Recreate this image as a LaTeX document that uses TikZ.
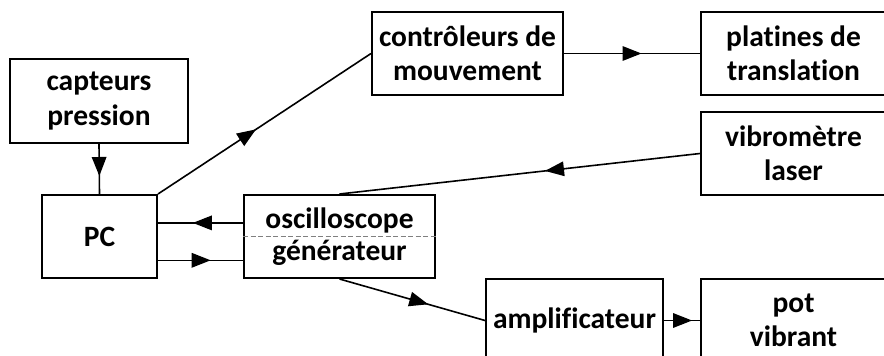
\documentclass[tikz,border=0pt]{standalone}
\usepackage{fontspec}
\setmainfont{Carlito}[Ligatures=NoCommon]
\usetikzlibrary{arrows.meta,decorations.markings,calc}
\tikzset{
  box/.style={draw=black, line width=2pt, rectangle, inner sep=0pt, align=center,
    font=\fontsize{29.5}{34.5}\selectfont\bfseries},
  conn/.style={line width=1.6pt},
  marr/.style={postaction={decorate}, decoration={markings,
    mark=at position #1 with {\arrow{Triangle[length=19pt,width=14.5pt]}}}},
  sep/.style={draw=gray, line width=0.9pt, dash pattern=on 5pt off 2.5pt}
}
\begin{document}
\begin{tikzpicture}[x=1pt,y=-1pt]
\useasboundingbox (0,0) rectangle (884,356);
\clip (0,0) rectangle (884,356);
\node[box, minimum width=178pt, minimum height=84pt] (capt) at (99,101) {capteurs\\pression};
\node[box, minimum width=115pt, minimum height=83pt] (pc) at (99.5,236.5) {PC};
\node[box, minimum width=191pt, minimum height=83pt] (osc) at (339.5,236.5) {oscilloscope\\[-2pt]générateur};
\node[box, minimum width=191pt, minimum height=83pt] (ctrl) at (467.5,53.5) {contrôleurs de\\mouvement};
\node[box, minimum width=185pt, minimum height=83pt] (plat) at (793.5,53.5) {platines de\\translation};
\node[box, minimum width=185pt, minimum height=83pt] (vib) at (793.5,153.5) {vibromètre\\laser};
\node[box, minimum width=177pt, minimum height=83pt] (amp) at (574.5,320.5) {amplificateur};
\node[box, minimum width=185pt, minimum height=83pt] (pot) at (793.5,320.5) {pot\\vibrant};
\draw[sep] (osc.west) -- (osc.east);
\coordinate (o1) at ($(osc.north west)!0.34!(osc.south west)$);
\coordinate (o2) at ($(osc.north west)!0.78!(osc.south west)$);
\draw[conn, marr=0.64] (capt.south) -- (pc.north);
\draw[conn, marr=0.46] (pc.north east) -- (ctrl.west);
\draw[conn, marr=0.57] (ctrl.east) -- (plat.west);
\draw[conn, marr=0.43] (vib.west) -- (osc.north);
\draw[conn, marr=0.59] (o1) -- (o1 -| pc.east);
\draw[conn, marr=0.62] (o2 -| pc.east) -- (o2);
\draw[conn, marr=0.61] (osc.south) -- (amp.west);
\draw[conn, marr=0.78] (amp.east) -- (pot.west);
\end{tikzpicture}
\end{document}
